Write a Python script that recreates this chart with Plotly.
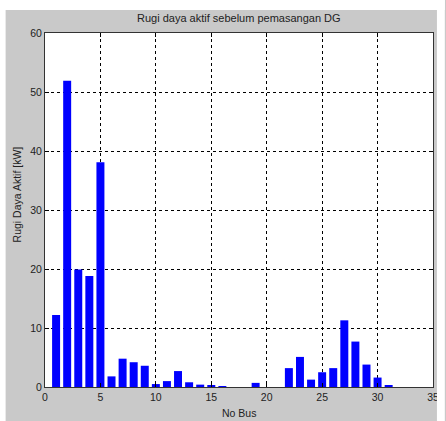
import plotly.graph_objects as go

bus = list(range(1, 33))
loss_kw = [12.2, 51.9, 19.9, 18.8, 38.1, 1.8, 4.8, 4.2, 3.6, 0.5,
           1.0, 2.7, 0.8, 0.4, 0.2, 0.15, 0.0, 0.0, 0.7, 0.0,
           0.0, 3.2, 5.1, 1.25, 2.5, 3.2, 11.3, 7.7, 3.8, 1.6,
           0.2, 0.0]
x_ticks = [0, 5, 10, 15, 20, 25, 30, 35]
y_ticks = [0, 10, 20, 30, 40, 50, 60]

GRAY = "#c9c9c9"
L, R, T, B = 45, 7, 33, 34
W, H = 446, 421
pw, ph = W - L - R, H - T - B

def px(x):
    return (x - L) / pw

def py(y):
    return (H - B - y) / ph

fig = go.Figure()
fig.add_trace(go.Bar(x=bus, y=loss_kw, width=0.72,
                     marker=dict(color="#0000ff", line=dict(width=0))))

fig.update_layout(
    width=W, height=H,
    margin=dict(l=L, r=R, t=T, b=B),
    paper_bgcolor=GRAY, plot_bgcolor="white",
    showlegend=False,
    font=dict(family="Arial, Liberation Sans, sans-serif", size=10, color="#222"),
    xaxis=dict(range=[0, 35], tickvals=x_ticks, ticks="inside", ticklen=4,
               tickcolor="black", showline=True, mirror="ticks", linecolor="#333",
               linewidth=1, showgrid=True, gridcolor="black", griddash="dot",
               gridwidth=1, zeroline=False, tickfont=dict(size=10.5)),
    yaxis=dict(range=[0, 60], tickvals=y_ticks, ticks="inside", ticklen=4,
               tickcolor="black", showline=True, mirror="ticks", linecolor="#333",
               linewidth=1, showgrid=True, gridcolor="black", griddash="dot",
               gridwidth=1, zeroline=False, tickfont=dict(size=10.5)),
    shapes=[
        dict(type="rect", xref="paper", yref="paper", x0=px(-5), x1=px(5),
             y0=py(H + 5), y1=py(-5), fillcolor="white", line=dict(width=0), layer="above"),
        dict(type="rect", xref="paper", yref="paper", x0=px(-5), x1=px(W + 5),
             y0=py(10), y1=py(-5), fillcolor="white", line=dict(width=0), layer="above"),
        dict(type="rect", xref="paper", yref="paper", x0=px(443), x1=px(W + 5),
             y0=py(H + 5), y1=py(-5), fillcolor="white", line=dict(width=0), layer="above"),
    ],
    annotations=[
        dict(text="Rugi daya aktif sebelum pemasangan DG", xref="paper", yref="paper",
             x=0.5, y=py(18), xanchor="center", yanchor="middle", showarrow=False,
             font=dict(size=11, color="#222")),
        dict(text="Rugi Daya Aktif [kW]", xref="paper", yref="paper",
             x=px(17), y=py(194), xanchor="center", yanchor="middle", showarrow=False,
             textangle=-90, font=dict(size=10.5, color="#222")),
        dict(text="No Bus", xref="paper", yref="paper",
             x=0.5, y=py(413), xanchor="center", yanchor="middle", showarrow=False,
             font=dict(size=10.5, color="#222")),
    ],
)

fig.write_html("out.html", config={"displayModeBar": False},
               post_script="document.body.style.margin='0';document.body.style.padding='0';")
